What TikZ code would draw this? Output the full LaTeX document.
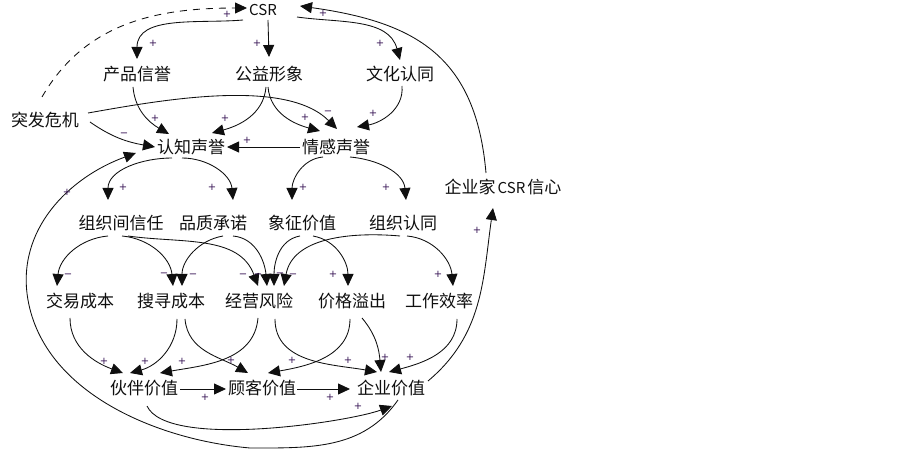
\documentclass[tikz,border=0pt]{standalone}
\usepackage{fontspec}
\newfontfamily\cjkf{Noto Sans CJK SC}
\newfontfamily\lblf{DejaVu Sans}
\usetikzlibrary{arrows.meta}
\definecolor{txtc}{RGB}{15,15,15}
\definecolor{lblc}{RGB}{55,20,85}
\begin{document}
\begin{tikzpicture}[x=1pt,y=1pt,
  box/.style={font=\cjkf\fontsize{17}{17}\selectfont, inner sep=0pt, text=txtc},
  csrbox/.style={font=\cjkf\fontsize{15}{15}\selectfont, inner sep=0pt, text=txtc},
  lnk/.style={draw=txtc, line width=0.85pt, -{Triangle[length=12pt,width=11pt]}},
  dashlnk/.style={lnk, dash pattern=on 7pt off 6pt},
  lbl/.style={font=\lblf\fontsize{10}{10}\selectfont, inner sep=0pt, text=lblc}]
\fill[white] (0,0) rectangle (903,-454);
\useasboundingbox (0,0) rectangle (903,-454);
% nodes
\node[csrbox] (csr) at (263,-10) {CSR};
\node[box] (cpxy) at (137,-74) {产品信誉};
\node[box] (gyxx) at (269,-74) {公益形象};
\node[box] (whrt) at (400,-74) {文化认同};
\node[box] (tfwj) at (45,-120) {突发危机};
\node[box] (rzsy) at (191,-147) {认知声誉};
\node[box] (qgsy) at (336,-147) {情感声誉};
\node[box] (qyj) at (503,-187) {企业家\hspace{2pt}{\fontsize{15}{15}\selectfont CSR}\hspace{2pt}信心};
\node[box] (zzjxr) at (121,-223) {组织间信任};
\node[box] (pzcn) at (213,-223) {品质承诺};
\node[box] (xzjz) at (302,-223) {象征价值};
\node[box] (zzrt) at (403,-223) {组织认同};
\node[box] (jycb) at (80,-301) {交易成本};
\node[box] (sxcb) at (171,-301) {搜寻成本};
\node[box] (jyfx) at (259,-301) {经营风险};
\node[box] (jgyc) at (352,-301) {价格溢出};
\node[box] (gzxl) at (439,-301) {工作效率};
\node[box] (hbjz) at (144,-388) {伙伴价值};
\node[box] (gkjz) at (262,-388) {顾客价值};
\node[box] (qyjz) at (391,-388) {企业价值};
\coordinate (w1) at (250,-448);
\coordinate (w2) at (28,-300);
% connectors
\draw[dashlnk] ([shift={(-3,23)}]tfwj.center) to[out=60,in=180] ([shift={(-16,2)}]csr.center);
\draw[lnk] ([shift={(-20,-10)}]csr.center) to[out=185,in=90] ([shift={(0,15)}]cpxy.center);
\draw[lnk] ([shift={(5,-10)}]csr.center) -- ([shift={(0,17)}]gyxx.center);
\draw[lnk] ([shift={(34,-7)}]csr.center) to[out=-8,in=105] ([shift={(0,14)}]whrt.center);
\draw[lnk] ([shift={(37,7)}]qyjz.center) to[out=40,in=-98] ([shift={(-10,-21)}]qyj.center);
\draw[lnk] ([shift={(-17,14)}]qyj.center) to[out=95,in=-8,looseness=1.2] ([shift={(37,4)}]csr.center);
\draw[lnk] ([shift={(-4,-13)}]cpxy.center) to[out=-85,in=150] ([shift={(-22,13)}]rzsy.center);
\draw[lnk] ([shift={(-3,-13)}]gyxx.center) to[out=-95,in=15] ([shift={(21,14)}]rzsy.center);
\draw[lnk] ([shift={(-1,-13)}]gyxx.center) to[out=-85,in=165] ([shift={(-16,16)}]qgsy.center);
\draw[lnk] ([shift={(43,7)}]tfwj.center) to[out=10,in=135,looseness=0.75] ([shift={(1,18)}]qgsy.center);
\draw[lnk] ([shift={(45,-2)}]tfwj.center) to[out=-35,in=170] ([shift={(-36,0)}]rzsy.center);
\draw[lnk] ([shift={(2,-12)}]whrt.center) to[out=-85,in=10] ([shift={(21,20)}]qgsy.center);
\draw[lnk] ([shift={(-36,0)}]qgsy.center) -- ([shift={(36,0)}]rzsy.center);
\draw[lnk] ([shift={(7,-12)}]qyjz.center) to[out=-125,in=0] (w1) to[out=175,in=-80,looseness=0.9] (w2) to[out=100,in=200] ([shift={(-55,-6)}]rzsy.center);
\draw[lnk] ([shift={(3,-18)}]hbjz.center) to[out=-65,in=-160,looseness=0.5] ([shift={(1,-18)}]qyjz.center);
\draw[lnk] ([shift={(-19,-11)}]rzsy.center) to[out=180,in=90] ([shift={(-13,23)}]zzjxr.center);
\draw[lnk] ([shift={(-9,-11)}]rzsy.center) to[out=0,in=95] ([shift={(20,23)}]pzcn.center);
\draw[lnk] ([shift={(-13,-10)}]qgsy.center) to[out=185,in=90] ([shift={(-10,23)}]xzjz.center);
\draw[lnk] ([shift={(14,-10)}]qgsy.center) to[out=-5,in=95] ([shift={(3,23)}]zzrt.center);
\draw[lnk] ([shift={(-13,-13)}]zzjxr.center) to[out=185,in=85] ([shift={(-23,15)}]jycb.center);
\draw[lnk] ([shift={(1,-13)}]zzjxr.center) to[out=-5,in=95] ([shift={(2,15)}]sxcb.center);
\draw[lnk] ([shift={(7,-13)}]zzjxr.center) to[out=-8,in=110] ([shift={(-1,15)}]jyfx.center);
\draw[lnk] ([shift={(10,-13)}]pzcn.center) to[out=190,in=90] ([shift={(11,15)}]sxcb.center);
\draw[lnk] ([shift={(20,-13)}]pzcn.center) to[out=-5,in=95] ([shift={(8,15)}]jyfx.center);
\draw[lnk] ([shift={(-2,-13)}]xzjz.center) to[out=190,in=90] ([shift={(15,15)}]jyfx.center);
\draw[lnk] ([shift={(11,-13)}]xzjz.center) to[out=-10,in=90] ([shift={(-4,15)}]jgyc.center);
\draw[lnk] ([shift={(-3,-13)}]zzrt.center) to[out=175,in=80] ([shift={(25,15)}]jyfx.center);
\draw[lnk] ([shift={(4,-13)}]zzrt.center) to[out=-5,in=95] ([shift={(14,15)}]gzxl.center);
\draw[lnk] ([shift={(-10,-17)}]jycb.center) to[out=-90,in=160] ([shift={(-21,15)}]hbjz.center);
\draw[lnk] ([shift={(6,-18)}]sxcb.center) to[out=-90,in=15] ([shift={(-14,15)}]hbjz.center);
\draw[lnk] ([shift={(14,-18)}]sxcb.center) to[out=-85,in=150] ([shift={(-14,15)}]gkjz.center);
\draw[lnk] ([shift={(-1,-17)}]jyfx.center) to[out=-95,in=10] ([shift={(16,15)}]hbjz.center);
\draw[lnk] ([shift={(16,-18)}]jyfx.center) to[out=-90,in=170] ([shift={(-14,16)}]qyjz.center);
\draw[lnk] ([shift={(-2,-18)}]jgyc.center) to[out=-90,in=10] ([shift={(6,15)}]gkjz.center);
\draw[lnk] ([shift={(10,-17)}]jgyc.center) to[out=-50,in=95] ([shift={(-10,16)}]qyjz.center);
\draw[lnk] ([shift={(18,-18)}]gzxl.center) to[out=-90,in=15] ([shift={(-2,16)}]qyjz.center);
\draw[lnk] ([shift={(36,-1)}]hbjz.center) -- ([shift={(-36,-1)}]gkjz.center);
\draw[lnk] ([shift={(35,-1)}]gkjz.center) -- ([shift={(-41,-1)}]qyjz.center);
% polarity labels
\node[lbl] (l1) at (227,-14) {+};
\node[lbl] (l2) at (153,-43) {+};
\node[lbl] (l3) at (257,-43) {+};
\node[lbl] (l4) at (380,-43) {+};
\node[lbl] (l5) at (477,-230) {+};
\node[lbl] (l6) at (323,-13) {+};
\node[lbl] (l7) at (155,-118) {+};
\node[lbl] (l8) at (225,-118) {+};
\node[lbl] (l9) at (305,-117) {+};
\node[lbl] (l10) at (328,-113) {−};
\node[lbl] (l11) at (124,-135) {−};
\node[lbl] (l12) at (373,-113) {+};
\node[lbl] (l13) at (247,-140) {+};
\node[lbl] (l14) at (67,-192) {+};
\node[lbl] (l15) at (358,-406) {+};
\node[lbl] (l16) at (123,-187) {+};
\node[lbl] (l17) at (212,-187) {+};
\node[lbl] (l18) at (303,-187) {+};
\node[lbl] (l19) at (386,-187) {+};
\node[lbl] (l20) at (68,-276) {−};
\node[lbl] (l21) at (164,-275) {−};
\node[lbl] (l22) at (243,-276) {−};
\node[lbl] (l23) at (193,-276) {−};
\node[lbl] (l24) at (258,-276) {−};
\node[lbl] (l25) at (280,-275) {−};
\node[lbl] (l26) at (333,-274) {+};
\node[lbl] (l27) at (293,-276) {−};
\node[lbl] (l28) at (438,-274) {+};
\node[lbl] (l29) at (104,-361) {+};
\node[lbl] (l30) at (145,-361) {+};
\node[lbl] (l31) at (231,-360) {+};
\node[lbl] (l32) at (182,-361) {+};
\node[lbl] (l33) at (348,-360) {+};
\node[lbl] (l34) at (292,-360) {+};
\node[lbl] (l35) at (385,-357) {+};
\node[lbl] (l36) at (410,-357) {+};
\node[lbl] (l37) at (205,-397) {+};
\node[lbl] (l38) at (330,-397) {+};
\end{tikzpicture}
\end{document}
